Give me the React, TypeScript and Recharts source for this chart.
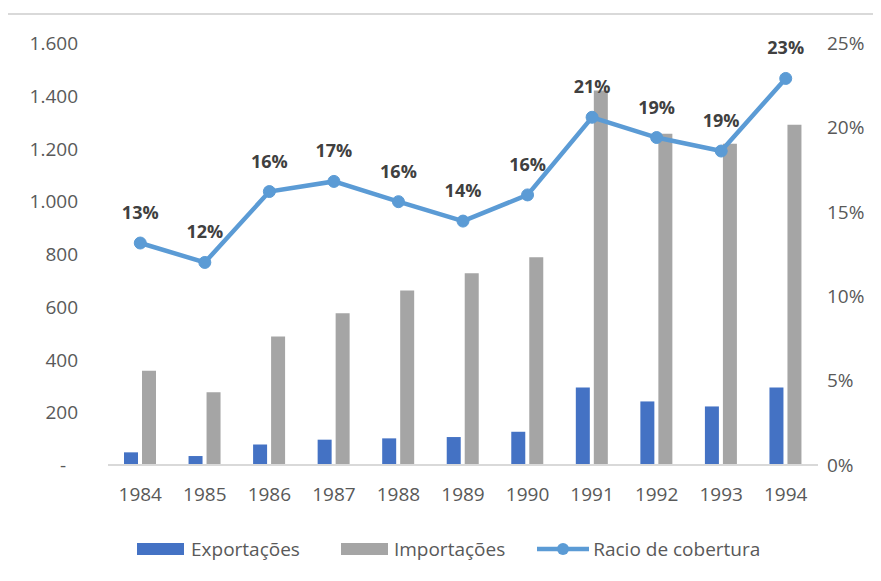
import { Bar, ComposedChart, LabelList, Line, XAxis, YAxis } from 'recharts'

const years = ['1984', '1985', '1986', '1987', '1988', '1989', '1990', '1991', '1992', '1993', '1994']
const exportacoes = [48, 34, 78, 96, 101, 106, 126, 294, 241, 222, 294]
const importacoes = [357, 276, 487, 575, 662, 727, 788, 1420, 1256, 1218, 1290]
const racio = [0.1315, 0.12, 0.162, 0.168, 0.156, 0.1445, 0.16, 0.206, 0.194, 0.186, 0.229]
const leftTicks = [0, 200, 400, 600, 800, 1000, 1200, 1400, 1600]
const rightTicks = [0, 0.05, 0.1, 0.15, 0.2, 0.25]

const data = years.map((year, i) => ({
  year,
  exp: exportacoes[i],
  imp: importacoes[i],
  racio: racio[i],
}))

const FONT = '"Open Sans", sans-serif'
const TICK = '#595959'

const fmtThousands = (v: number) => String(v).replace(/\B(?=(\d{3})+(?!\d))/g, '.')

function LeftTick({ x, y, payload }: any) {
  const v = payload.value as number
  if (v === 0) {
    return (
      <text x={x - 12} y={y} textAnchor="end" dominantBaseline="central" fill={TICK} fontSize={19} fontFamily={FONT}>
        -
      </text>
    )
  }
  return (
    <text x={x} y={y} textAnchor="end" dominantBaseline="central" fill={TICK} fontSize={19} fontFamily={FONT}>
      {fmtThousands(v)}
    </text>
  )
}

function RacioLabel({ x, y, value }: any) {
  return (
    <text x={x} y={y - 31} textAnchor="middle" dominantBaseline="central" fill="#404040" fontSize={18} fontWeight={700} fontFamily={FONT}>
      {Math.round(value * 100)}%
    </text>
  )
}

export default function App() {
  return (
    <div style={{ position: 'relative', width: 881, height: 581, margin: -8, overflow: 'hidden', background: '#fff' }}>
      <div
        style={{
          position: 'absolute',
          left: 6,
          top: 13,
          width: 900,
          height: 600,
          border: '2px solid #D9D9D9',
          boxSizing: 'border-box',
        }}
      />
      <div style={{ position: 'absolute', left: 0, top: 0 }}>
        <ComposedChart width={881} height={581} data={data} margin={{ top: 43, right: 0, left: 0, bottom: 66 }} barGap={4}>
          <XAxis
            dataKey="year"
            height={50}
            tickSize={0}
            tickMargin={23}
            axisLine={{ stroke: '#D9D9D9', strokeWidth: 2 }}
            tick={{ fill: TICK, fontSize: 19, fontFamily: FONT }}
          />
          <YAxis
            yAxisId="left"
            width={108}
            domain={[0, 1600]}
            ticks={leftTicks}
            interval={0}
            axisLine={false}
            tickLine={false}
            tickSize={0}
            tickMargin={30}
            tick={<LeftTick />}
          />
          <YAxis
            yAxisId="right"
            orientation="right"
            width={63}
            domain={[0, 0.25]}
            ticks={rightTicks}
            interval={0}
            axisLine={false}
            tickLine={false}
            tickSize={0}
            tickMargin={9}
            tickFormatter={(v: number) => `${Math.round(v * 100)}%`}
            tick={{ fill: TICK, fontSize: 19, fontFamily: FONT, textAnchor: 'start' }}
          />
          <Bar yAxisId="left" dataKey="exp" name="Exportações" fill="#4472C4" barSize={14} isAnimationActive={false} />
          <Bar yAxisId="left" dataKey="imp" name="Importações" fill="#A5A5A5" barSize={14} isAnimationActive={false} />
          <Line
            yAxisId="right"
            dataKey="racio"
            name="Racio de cobertura"
            stroke="#5B9BD5"
            strokeWidth={4.5}
            dot={{ r: 6, fill: '#5B9BD5', stroke: '#5B9BD5', strokeWidth: 1 }}
            isAnimationActive={false}
          >
            <LabelList dataKey="racio" content={<RacioLabel />} />
          </Line>
        </ComposedChart>
      </div>
      <div
        style={{
          position: 'absolute',
          left: 137,
          top: 535,
          display: 'flex',
          alignItems: 'center',
          fontFamily: FONT,
          fontSize: 19,
          color: TICK,
          height: 28,
        }}
      >
        <span style={{ display: 'inline-block', width: 47, height: 12, background: '#4472C4', marginRight: 7 }} />
        <span style={{ marginRight: 41 }}>Exportações</span>
        <span style={{ display: 'inline-block', width: 47, height: 12, background: '#A5A5A5', marginRight: 6 }} />
        <span style={{ marginRight: 32 }}>Importações</span>
        <svg width={52} height={14} style={{ marginRight: 4 }}>
          <line x1={0} y1={7} x2={52} y2={7} stroke="#5B9BD5" strokeWidth={4.5} />
          <circle cx={26} cy={7} r={6} fill="#5B9BD5" />
        </svg>
        <span>Racio de cobertura</span>
      </div>
    </div>
  )
}
